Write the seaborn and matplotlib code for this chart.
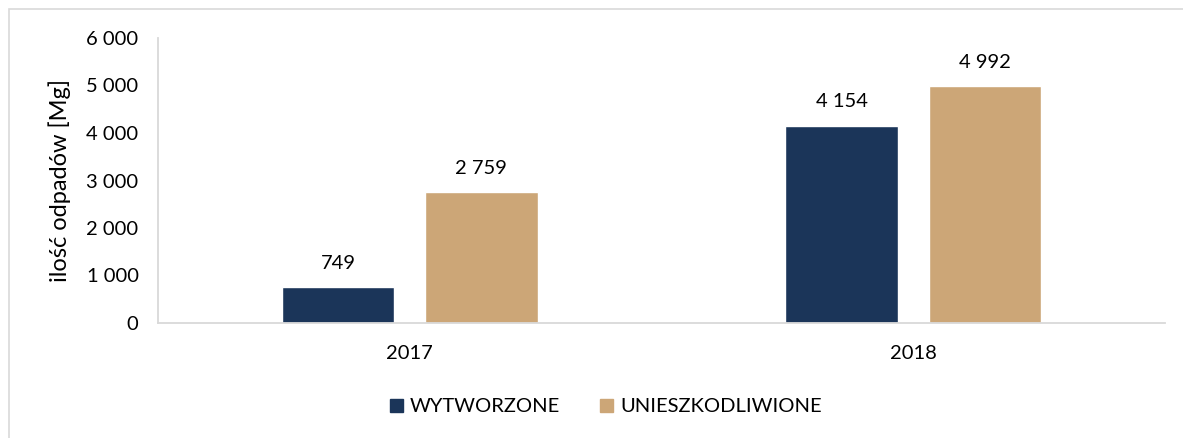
import matplotlib
matplotlib.use("Agg")
import matplotlib.pyplot as plt
from matplotlib.patches import Rectangle, Patch
import pandas as pd
import seaborn as sns

# Data: waste generated vs. neutralised [Mg]
years = ["2017", "2018"]
series_names = ["WYTWORZONE", "UNIESZKODLIWIONE"]
wytworzone = [749, 4154]
unieszkodliwione = [2759, 4992]
y_ticks = [0, 1000, 2000, 3000, 4000, 5000, 6000]

colors = ["#1b3559", "#cca677"]
grid_gray = "#d9d9d9"
text_color = "#000000"

sns.set_theme(style="white")
plt.rcParams["font.family"] = ["Lato", "DejaVu Sans"]

df = pd.DataFrame({
    "rok": years * 2,
    "seria": [series_names[0]] * len(years) + [series_names[1]] * len(years),
    "ilosc": wytworzone + unieszkodliwione,
})

fig = plt.figure(figsize=(11.83, 4.38), dpi=100)
ax = fig.add_axes([158 / 1183, 1 - 323 / 438, (1165 - 158) / 1183, (323 - 38) / 438])

sns.barplot(data=df, x="rok", y="ilosc", hue="seria", hue_order=series_names,
            palette=colors, width=0.569, gap=0.216, saturation=1,
            errorbar=None, ax=ax, legend=False)

ax.set_xlim(-0.5, 1.5)
ax.set_ylim(0, 6000)
ax.set_yticks(y_ticks)
ax.set_yticklabels([f"{v:,}".replace(",", " ") for v in y_ticks])

for side in ["top", "right"]:
    ax.spines[side].set_visible(False)
for side in ["left", "bottom"]:
    ax.spines[side].set_color(grid_gray)
    ax.spines[side].set_linewidth(1.3)

fs = 14.5
ax.tick_params(axis="y", direction="in", length=7, width=1.3, color=grid_gray,
               labelsize=fs, labelcolor=text_color, pad=14)
ax.tick_params(axis="x", length=0, labelsize=fs, labelcolor=text_color, pad=16)
ax.set_xlabel("")
ax.set_ylabel("ilość odpadów [Mg]", fontsize=17, color=text_color, labelpad=11)

# Value labels above bars
for container in ax.containers:
    ax.bar_label(container, labels=[f"{v:,.0f}".replace(",", " ") for v in container.datavalues],
                 padding=11, fontsize=fs, color=text_color)

# Legend
handles = [Patch(facecolor=c, edgecolor=c) for c in colors]
fig.legend(handles, series_names, loc="center", bbox_to_anchor=(606 / 1183, 1 - 407 / 438),
           ncol=2, frameon=False, fontsize=fs, handlelength=0.62, handleheight=0.62,
           handletextpad=0.35, columnspacing=2.0, labelcolor=text_color)

# Outer chart frame
fig.patches.append(Rectangle((9 / 1183, -0.1), 1.2, 1.1 - 9 / 438, transform=fig.transFigure,
                             fill=False, edgecolor=grid_gray, linewidth=1.2))

fig.savefig("out.png", dpi=100)
